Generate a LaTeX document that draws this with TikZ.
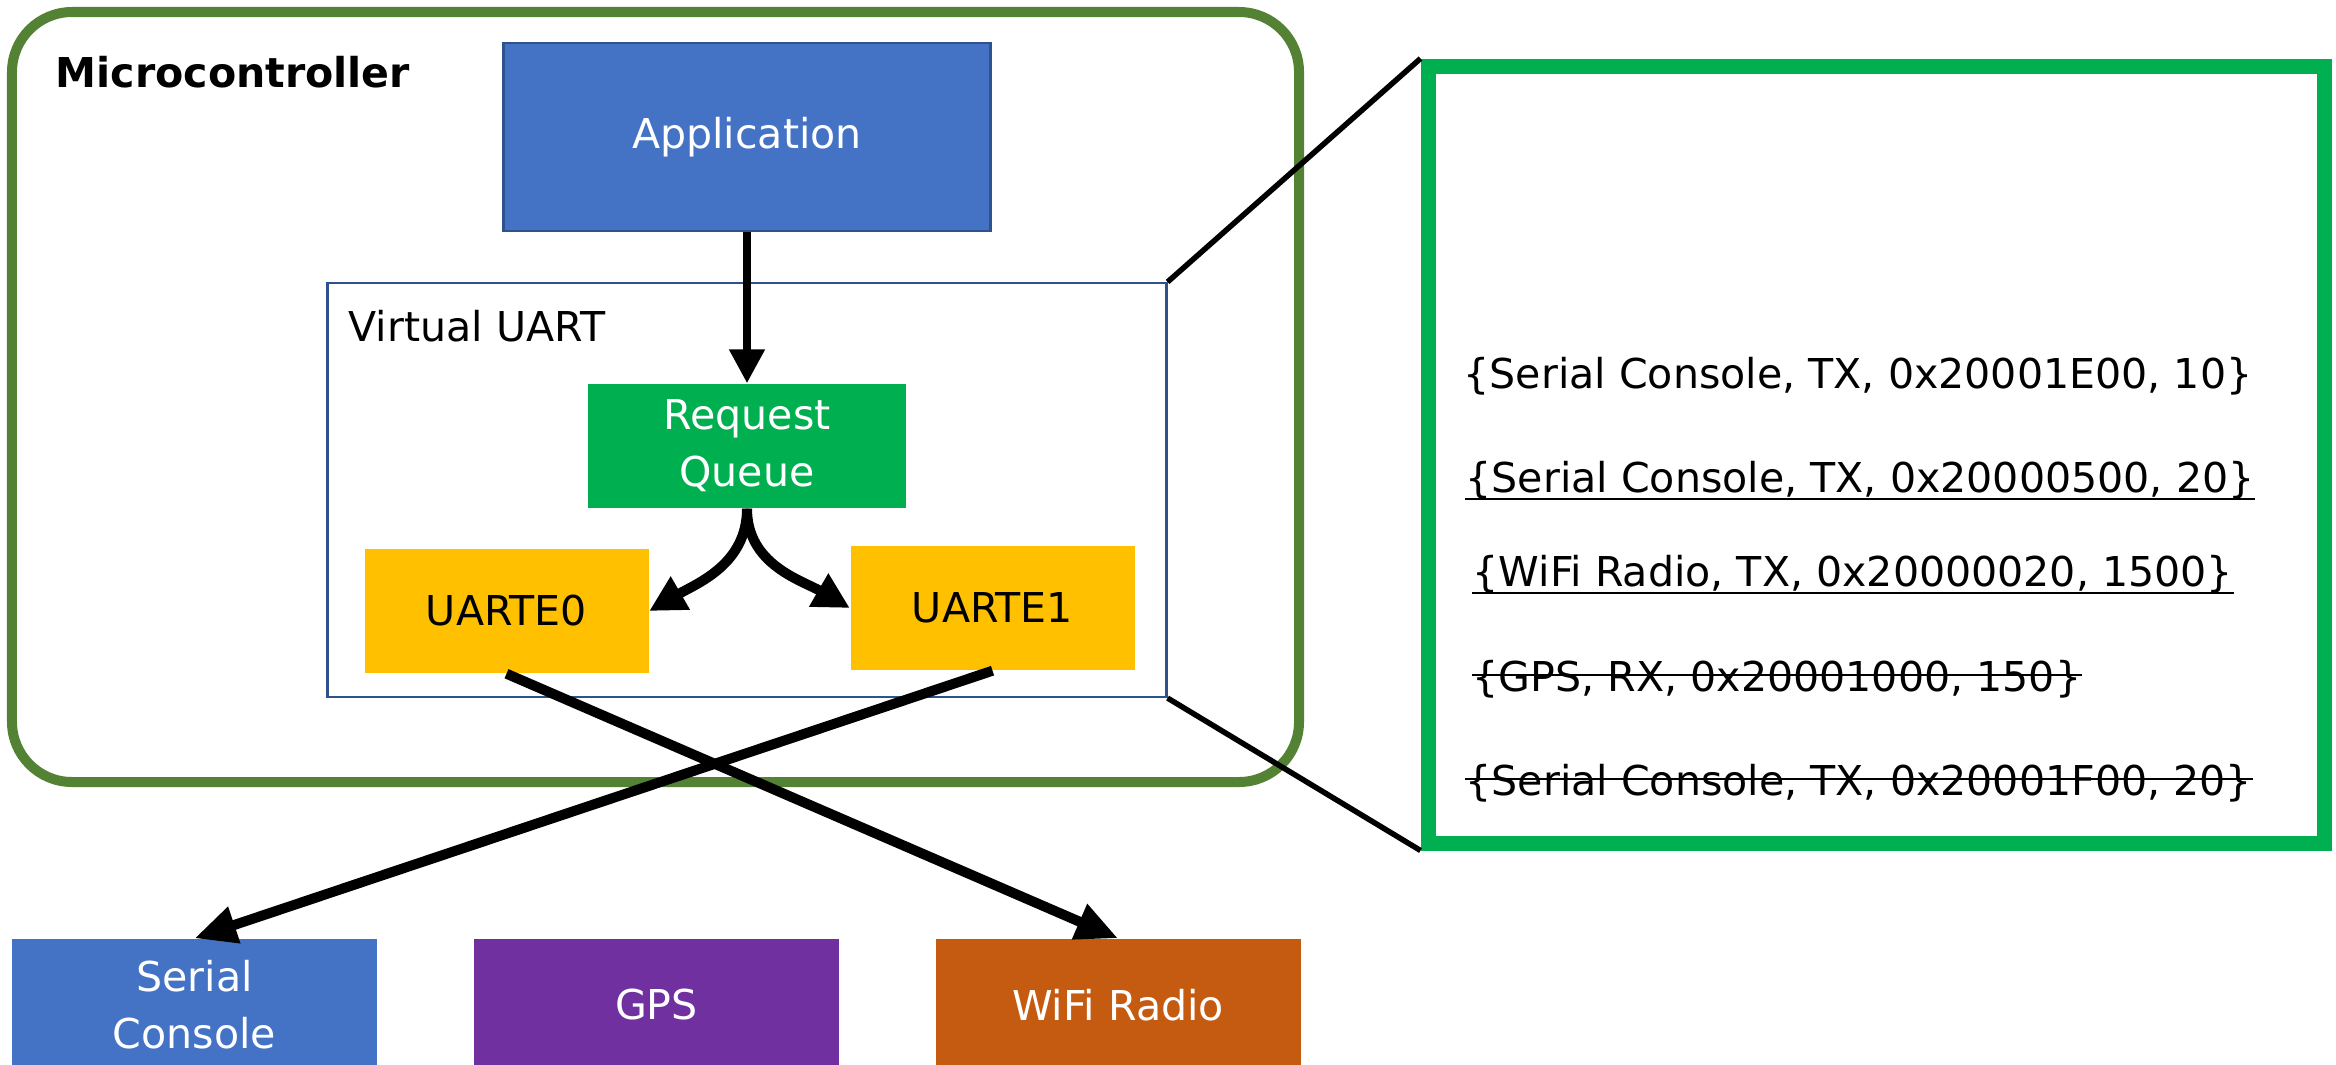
\documentclass[tikz,border=0pt]{standalone}
\usepackage{fontspec}
\setmainfont{DejaVu Sans}
\usetikzlibrary{arrows.meta}

\definecolor{appblue}{HTML}{4472C4}
\definecolor{edgeblue}{HTML}{2F528F}
\definecolor{queuegreen}{HTML}{00B050}
\definecolor{uartyellow}{HTML}{FFC000}
\definecolor{gpspurple}{HTML}{7030A0}
\definecolor{wifiorange}{HTML}{C55A11}
\definecolor{mcugreen}{HTML}{548235}

\newcommand{\lbl}{\fontsize{11.7}{16.2}\selectfont}

\begin{document}
\begin{tikzpicture}

% definitions
\tikzstyle{block} = [rectangle, minimum height=1.24cm, text centered, align=center, inner sep=0pt, font=\lbl, text=white]

\tikzstyle{uarte} = [rectangle, minimum width=2.84cm, minimum height=1.24cm, text centered, inner sep=0pt, font=\lbl, fill=uartyellow]

\tikzstyle{periph} = [rectangle, minimum width=3.65cm, minimum height=1.32cm, text centered, align=center, inner sep=0pt, font=\lbl, text=white]

\tikzstyle{mcubox} = [rectangle, rounded corners=0.6cm, minimum width=12.87cm, minimum height=7.70cm, draw=mcugreen, line width=0.1cm]

\tikzstyle{vuartbox} = [rectangle, minimum width=8.39cm, minimum height=4.14cm, draw=edgeblue, line width=0.6pt]

\tikzstyle{zoombox} = [rectangle, minimum width=8.96cm, minimum height=7.77cm, draw=queuegreen, line width=0.15cm]

\tikzstyle{entry} = [anchor=base west, inner sep=0pt, font=\lbl]

\tikzstyle{markline} = [line width=0.8pt]

\tikzstyle{arrow} = [->, >={Triangle[length=0.34cm, width=0.34cm]}, line width=0.08cm]

\tikzstyle{curvearrow} = [->, >={Triangle[length=0.36cm, width=0.36cm]}, line width=0.1cm]

\tikzstyle{wire} = [->, >={Triangle[length=0.42cm, width=0.36cm]}, line width=0.1cm]

\tikzstyle{zoomline} = [line width=0.055cm]

\useasboundingbox (0,0) rectangle (23.36,10.64);

% containers
\node (mcu) [mcubox] at (6.555,6.67) {};
\node (mcutitle) [anchor=base west, inner sep=0pt, font=\lbl\bfseries] at (0.55,9.77) {Microcontroller};

\node (vuart) [vuartbox] at (7.47,5.74) {};
\node (vuarttitle) [anchor=base west, inner sep=0pt, font=\lbl] at (3.48,7.23) {Virtual UART};

% the graph
\node (app) [block, fill=appblue, draw=edgeblue, line width=0.6pt, minimum width=4.87cm, minimum height=1.88cm] at (7.47,9.27) {Application};

\node (rq) [block, fill=queuegreen, minimum width=3.18cm] at (7.47,6.18) {Request\\Queue};

\node (u0) [uarte] at (5.065,4.53) {UARTE0};

\node (u1) [uarte] at (9.925,4.56) {UARTE1};

\node (sc) [periph, fill=appblue] at (1.945,0.59) {Serial\\Console};

\node (gps) [periph, fill=gpspurple, right of=sc, xshift=3.62cm] {GPS};

\node (wifi) [periph, fill=wifiorange, right of=gps, xshift=3.615cm] {WiFi Radio};

% zoomed queue
\node (zoom) [zoombox] at (18.76,6.095) {};

\node (e1) [entry] at (14.63,6.76) {\{Serial Console, TX, 0x20001E00, 10\}};
\node (e2) [entry] at (14.65,5.72) {\{Serial Console, TX, 0x20000500, 20\}};
\node (e3) [entry] at (14.72,4.78) {\{WiFi Radio, TX, 0x20000020, 1500\}};
\node (e4) [entry] at (14.72,3.73) {\{GPS, RX, 0x20001000, 150\}};
\node (e5) [entry] at (14.65,2.69) {\{Serial Console, TX, 0x20001F00, 20\}};

% underlined and struck entries
\draw [markline] ([yshift=-0.07cm]e2.base west) -- ([yshift=-0.07cm]e2.base east);
\draw [markline] ([yshift=-0.07cm]e3.base west) -- ([yshift=-0.07cm]e3.base east);
\draw [markline] ([yshift=0.16cm]e4.base west) -- ([yshift=0.16cm]e4.base east);
\draw [markline] ([yshift=0.16cm]e5.base west) -- ([yshift=0.16cm]e5.base east);

\draw [arrow] (app) -- (rq);
\draw [curvearrow] (rq.south) to[out=-90, in=30] (u0.east);
\draw [curvearrow] (rq.south) to[out=-90, in=150] (u1.west);
\draw [wire] (u0.south) -- (wifi.north);
\draw [wire] (u1.south) -- (sc.north);
\draw [zoomline] (vuart.north east) -- (zoom.north west);
\draw [zoomline] (vuart.south east) -- (zoom.south west);

\end{tikzpicture}
\end{document}
